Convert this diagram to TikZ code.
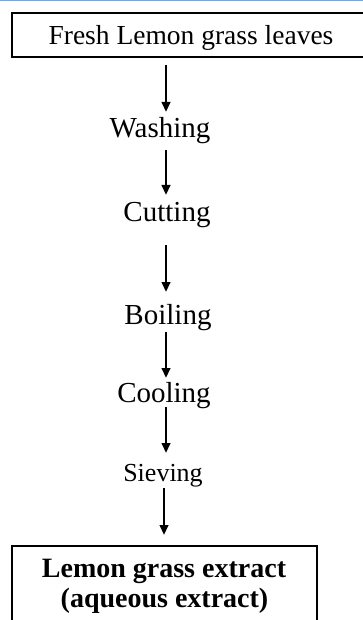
\documentclass[tikz,border=0pt]{standalone}
\usepackage{fontspec}
\setmainfont{Liberation Serif}
\usetikzlibrary{arrows.meta}
\definecolor{rulebl}{RGB}{127,163,214}
\tikzset{
  frame/.style={inner sep=0pt, anchor=north west},
  frameline/.style={draw=black, line width=1.9pt, line join=miter},
  steplbl/.style={inner sep=0pt, anchor=base, font=\fontsize{29}{32}\selectfont},
  flow/.style={line width=2.3pt, -{Triangle[length=10pt,width=8.5pt]}},
}
\begin{document}
\begin{tikzpicture}[x=1pt,y=-1pt]
  \useasboundingbox (0,0) rectangle (363,620);
  \begin{scope}
  \clip (0,0) rectangle (363,620);
  \fill[white] (0,0) rectangle (363,620);
  % thin rule along the top edge
  \draw[rulebl, line width=1.5pt] (0,0.75) -- (363,0.75);

  % source box (open to the right, it runs past the edge)
  \node[frame, minimum width=351pt, minimum height=44pt] (src) at (12,13) {};
  \draw[frameline] ([xshift=20pt]src.north east) -- (src.north west) -- (src.south west) -- ([xshift=20pt]src.south east);
  \node[inner sep=0pt, anchor=base, font=\fontsize{27.5}{30}\selectfont] (srct) at (191,45) {Fresh Lemon grass leaves};

  % process steps
  \node[steplbl] (wash) at (160,138) {Washing};
  \node[steplbl] (cut)  at (167,222) {Cutting};
  \node[steplbl] (boil) at (168,324) {Boiling};
  \node[steplbl] (cool) at (164,402) {Cooling};
  \node[steplbl, font=\fontsize{26}{29}\selectfont] (sieve) at (163,481) {Sieving};

  % product box (open at the bottom, it runs past the edge)
  \node[frame, minimum width=305pt, minimum height=74pt] (prod) at (12,546) {};
  \draw[frameline] ([yshift=-20pt]prod.south west) -- (prod.north west) -- (prod.north east) -- ([yshift=-20pt]prod.south east);
  \node[inner sep=0pt, anchor=base, font=\bfseries\fontsize{28}{30}\selectfont] (prodt1) at (164,577) {Lemon grass extract};
  \node[inner sep=0pt, anchor=base, font=\bfseries\fontsize{28}{30}\selectfont] (prodt2) at (164.5,607) {(aqueous extract)};

  % flow arrows
  \coordinate (col) at (166,0);
  \coordinate (colb) at (164,0);
  \draw[flow] ([yshift=-8pt]src.south -| col) -- ([yshift=26pt]wash.base -| col);
  \draw[flow] ([yshift=-12pt]wash.base -| col) -- ([yshift=27pt]cut.base -| col);
  \draw[flow] ([yshift=-23pt]cut.base -| col) -- ([yshift=32pt]boil.base -| col);
  \draw[flow] ([yshift=-8pt]boil.base -| col) -- ([yshift=24pt]cool.base -| col);
  \draw[flow] ([yshift=-5pt]cool.base -| col) -- ([yshift=28pt]sieve.base -| col);
  \draw[flow] ([yshift=-7pt]sieve.base -| colb) -- ([yshift=11pt]prod.north -| colb);
  \end{scope}
\end{tikzpicture}
\end{document}
